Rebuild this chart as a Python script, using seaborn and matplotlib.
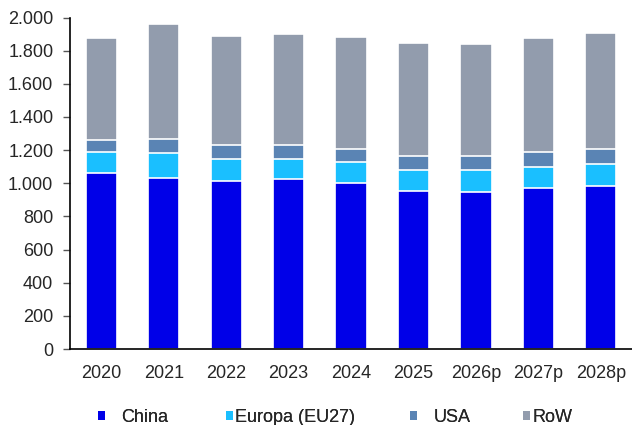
import numpy as np
import pandas as pd
import matplotlib
matplotlib.use("Agg")
import matplotlib.pyplot as plt
import seaborn as sns
from matplotlib.patches import Patch
from matplotlib.ticker import FuncFormatter

years = ["2020", "2021", "2022", "2023", "2024", "2025", "2026p", "2027p", "2028p"]
china = [1060, 1030, 1013, 1025, 1001, 956, 950, 971, 985]
europa = [130, 152, 135, 123, 129, 125, 127, 129, 131]
usa = [73, 85, 83, 83, 78, 83, 87, 86, 92]
row = [614, 691, 656, 670, 675, 683, 677, 693, 700]

series = ["China", "Europa (EU27)", "USA", "RoW"]
colors = ["#0000E8", "#1ABFFF", "#5A84B4", "#929CAD"]

sns.set_style("white")
plt.rcParams["font.family"] = ["Liberation Sans", "DejaVu Sans"]

df = pd.DataFrame({"year": years, "China": china, "Europa (EU27)": europa,
                   "USA": usa, "RoW": row})
# cumulative heights, drawn tallest first so the layers stack
cum = df[series].cumsum(axis=1)

fig = plt.figure(figsize=(6.32, 4.25), dpi=100)
ax = fig.add_axes([0.1108, 0.1788, 0.8892, 0.7800])

for name, col in reversed(list(zip(series, colors))):
    sns.barplot(x=df["year"], y=cum[name], color=col, width=0.5,
                edgecolor="white", linewidth=1.2, saturation=1, ax=ax)

ax.set_ylim(0, 2000)
ax.set_xlim(-0.5, 8.5)
ax.set_yticks(np.arange(0, 2001, 200))
ax.yaxis.set_major_formatter(FuncFormatter(lambda v, p: f"{int(v):,}".replace(",", ".")))
ax.set_xticks(np.arange(9))
ax.set_xticklabels(years)
ax.set_xticks(np.arange(-0.5, 9, 1), minor=True)
ax.tick_params(axis="x", which="major", length=0, labelsize=13, pad=11.5)
ax.tick_params(axis="x", which="minor", length=3.6, width=1, color="#555555", direction="out")
ax.tick_params(axis="y", length=5, width=1, color="#555555", direction="out",
               labelsize=13, left=True, pad=7)
ax.set_xlabel("")
ax.set_ylabel("")
for s in ["top", "right"]:
    ax.spines[s].set_visible(False)
for s in ["left", "bottom"]:
    ax.spines[s].set_color("black")
    ax.spines[s].set_linewidth(1.2)

# legend entries placed individually like the original
leg_x = [98, 226, 410, 523]
leg_pad = [0.89, 0.11, 0.94, 0.11]
for n, c, x, p in zip(series, colors, leg_x, leg_pad):
    lg = fig.legend(handles=[Patch(facecolor=c, edgecolor="none", label=n)],
                    loc="center left", bbox_to_anchor=(x / 632, 1 - 417 / 425),
                    frameon=False, fontsize=13, handlelength=0.39, handleheight=0.39,
                    handletextpad=p, borderpad=0, borderaxespad=0)
    fig.add_artist(lg)

fig.savefig("out.png", dpi=100)
